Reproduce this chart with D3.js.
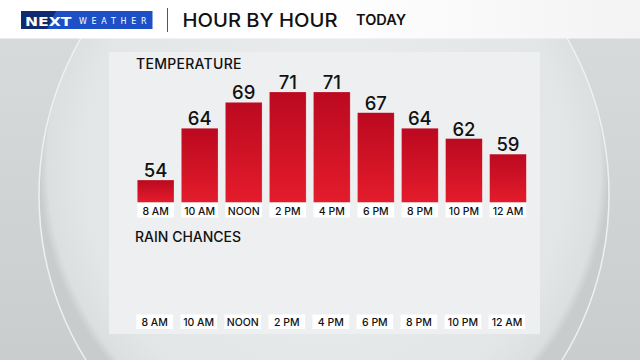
<!DOCTYPE html>
<html><head><meta charset="utf-8">
<script src="https://cdn.jsdelivr.net/npm/d3@7"></script>
<style>html,body{margin:0;padding:0;background:#d5d9da;overflow:hidden}svg{display:block}</style>
</head><body>
<script>
const hours = ["8 AM","10 AM","NOON","2 PM","4 PM","6 PM","8 PM","10 PM","12 AM"];
const temps = [54,64,69,71,71,67,64,62,59];
const rainHours = ["8 AM","10 AM","NOON","2 PM","4 PM","6 PM","8 PM","10 PM","12 AM"];
const title = "HOUR BY HOUR";
const subtitle = "TODAY";
const section1 = "TEMPERATURE";
const section2 = "RAIN CHANCES";

const W = 640, H = 360;
const FONT = "Inter, 'Noto Sans', sans-serif";
const svg = d3.select("body").append("svg").attr("width", W).attr("height", H);
const defs = svg.append("defs");

// background
const bgG = defs.append("linearGradient").attr("id","bg").attr("x1",0).attr("y1",0).attr("x2",0).attr("y2",1);
bgG.append("stop").attr("offset",0).attr("stop-color","#d9dcdd");
bgG.append("stop").attr("offset",1).attr("stop-color","#c9cdce");
svg.append("rect").attr("width",W).attr("height",H).attr("fill","url(#bg)");

const circG = defs.append("radialGradient").attr("id","circ").attr("cx","50%").attr("cy","45%").attr("r","50%");
circG.append("stop").attr("offset",0).attr("stop-color","#eceeef");
circG.append("stop").attr("offset",0.85).attr("stop-color","#e3e6e7");
circG.append("stop").attr("offset",0.97).attr("stop-color","#dcdfe0");
circG.append("stop").attr("offset",1).attr("stop-color","#c8cccd");
svg.append("ellipse").attr("cx",324).attr("cy",195).attr("rx",285).attr("ry",300)
  .attr("fill","url(#circ)").attr("stroke","#eef0f0").attr("stroke-width",1.5);

// header
const hdG = defs.append("linearGradient").attr("id","hd").attr("x1",0).attr("y1",0).attr("x2",1).attr("y2",0);
hdG.append("stop").attr("offset",0).attr("stop-color","#ffffff");
hdG.append("stop").attr("offset",0.5).attr("stop-color","#ffffff");
hdG.append("stop").attr("offset",1).attr("stop-color","#f3f3f3");
svg.append("rect").attr("width",W).attr("height",38.5).attr("fill","url(#hd)");

// logo
const logo = svg.append("g");
logo.append("rect").attr("x",21).attr("y",11).attr("width",131.5).attr("height",18).attr("fill","#1d4fc6");
logo.append("path").attr("d","M21,11 L56,11 L47,29 L21,29 Z").attr("fill","#0f2a6e");
logo.append("text").attr("x",25).attr("y",25.5).attr("font-family","'DejaVu Sans', sans-serif").attr("font-weight","bold")
  .attr("font-size",12).attr("fill","#fff").attr("textLength",46.5).attr("lengthAdjust","spacingAndGlyphs").text("NEXT");
logo.append("text").attr("x",79).attr("y",23.8).attr("font-family","'DejaVu Sans', sans-serif")
  .attr("font-size",8).attr("fill","#fff").attr("textLength",67.5).text("WEATHER");
svg.append("line").attr("x1",167.5).attr("x2",167.5).attr("y1",8).attr("y2",32).attr("stroke","#555").attr("stroke-width",1);
svg.append("text").attr("x",182.5).attr("y",26.7).attr("font-family",FONT).attr("font-weight",500)
  .attr("font-size",19.3).attr("fill","#111").attr("textLength",155).attr("lengthAdjust","spacingAndGlyphs").text(title);
svg.append("text").attr("x",356).attr("y",25).attr("font-family",FONT).attr("font-weight",600)
  .attr("font-size",13.8).attr("fill","#111").attr("textLength",50).attr("lengthAdjust","spacingAndGlyphs").text(subtitle);

// panel
svg.append("rect").attr("x",109).attr("y",52).attr("width",431).attr("height",282).attr("fill","#edeff0");

svg.append("text").attr("x",136).attr("y",69).attr("font-family",FONT).attr("font-weight",500)
  .attr("font-size",14).attr("fill","#111").attr("textLength",105.5).text(section1);
svg.append("text").attr("x",135).attr("y",242).attr("font-family",FONT).attr("font-weight",500)
  .attr("font-size",14).attr("fill","#111").text(section2);

// scales
const x = d3.scaleBand().domain(hours).range([137.3, 526.3]).paddingInner(0.167).paddingOuter(0);
const y = d3.scaleLinear().domain([49.7, 71]).range([202.3, 92]);

const barG = defs.append("linearGradient").attr("id","bar").attr("x1",0).attr("y1",0).attr("x2",0).attr("y2",1);
barG.append("stop").attr("offset",0).attr("stop-color","#bb0920");
barG.append("stop").attr("offset",1).attr("stop-color","#e41c2b");

const bars = svg.append("g");
bars.selectAll("rect").data(temps).join("rect")
  .attr("x",(d,i)=>x(hours[i])).attr("width",x.bandwidth())
  .attr("y",d=>y(d)).attr("height",d=>y.range()[0]-y(d))
  .attr("fill","url(#bar)").attr("stroke","rgba(255,255,255,0.35)").attr("stroke-width",0.6);

svg.append("g").selectAll("text").data(temps).join("text")
  .attr("x",(d,i)=>x(hours[i])+x.bandwidth()/2).attr("y",d=>y(d)-3)
  .attr("text-anchor","middle").attr("font-family",FONT).attr("font-weight",500)
  .attr("font-size",18.5).attr("fill","#111").text(d=>d);

function labelRow(data, top, dx){
  const g = svg.append("g");
  g.selectAll("rect").data(data).join("rect")
    .attr("x",d=>x(d)+dx).attr("width",x.bandwidth()).attr("y",top).attr("height",14.5).attr("fill","#fff");
  g.selectAll("text").data(data).join("text")
    .attr("x",d=>x(d)+dx+x.bandwidth()/2).attr("y",top+11.5).attr("text-anchor","middle")
    .attr("font-family",FONT).attr("font-weight",500).attr("font-size",10.5).attr("fill","#111").text(d=>d);
}
labelRow(hours, 203, 0);
labelRow(rainHours, 314.5, -1);
</script>
</body></html>
